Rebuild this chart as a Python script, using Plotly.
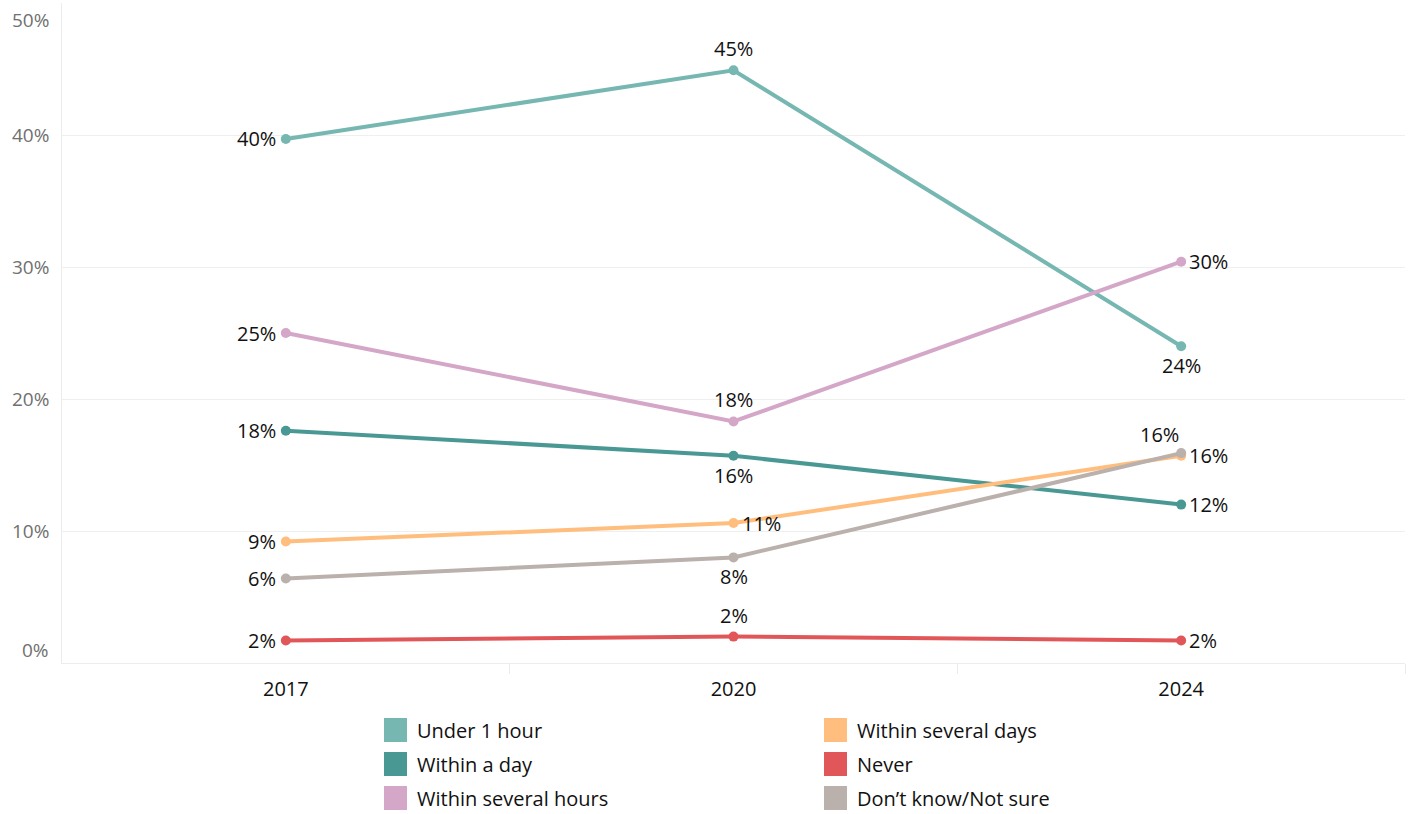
import plotly.graph_objects as go

years = ["2017", "2020", "2024"]
series_names = ["Under 1 hour", "Within a day", "Within several hours",
                "Within several days", "Never", "Don\u2019t know/Not sure"]
under_1_hour = [39.7, 44.9, 24.0]
within_a_day = [17.6, 15.7, 12.0]
within_several_hours = [25.0, 18.3, 30.4]
within_several_days = [9.2, 10.6, 15.7]
never = [1.7, 2.0, 1.7]
dont_know = [6.4, 8.0, 15.9]
y_tick_values = [0, 10, 20, 30, 40, 50]
y_tick_labels = ["0%", "10%", "20%", "30%", "40%", "50%"]

colors = ["#76B7B2", "#499894", "#D4A6C8", "#FFBE7D", "#E15759", "#BAB0AC"]
values = [under_1_hour, within_a_day, within_several_hours,
          within_several_days, never, dont_know]
label_positions = [
    ["left", "top", "bottom"],
    ["left", "bottom", "right"],
    ["left", "top", "right"],
    ["left", "right", "right"],
    ["left", "top", "right"],
    ["left", "bottom", "topleft"],
]
POS = {
    "left": dict(xanchor="right", yanchor="middle", xshift=-8, yshift=0),
    "right": dict(xanchor="left", yanchor="middle", xshift=6, yshift=0),
    "top": dict(xanchor="center", yanchor="bottom", xshift=0, yshift=6),
    "bottom": dict(xanchor="center", yanchor="top", xshift=0, yshift=-4),
    "topleft": dict(xanchor="right", yanchor="bottom", xshift=0, yshift=3),
}

FONT = "Open Sans"
fig = go.Figure()
xs = list(range(len(years)))
annotations = []
for name, vals, col, lp in zip(series_names, values, colors, label_positions):
    fig.add_trace(go.Scatter(
        x=xs, y=vals, mode="lines+markers", name=name,
        line=dict(color=col, width=4), marker=dict(color=col, size=10),
        showlegend=False, cliponaxis=False,
    ))
    for xi, v, p in zip(xs, vals, lp):
        annotations.append(dict(x=xi, y=v, xref="x", yref="y", text=f"{round(v):d}%",
                                showarrow=False,
                                font=dict(family=FONT, size=20, color="#111111"),
                                **POS[p]))

shapes = []
# y-axis labels (Tableau-style: top label below gridline, bottom above)
for v, lab in zip(y_tick_values, y_tick_labels):
    shift = 0
    if v == max(y_tick_values):
        shift = -17
    elif v == min(y_tick_values):
        shift = 13
    annotations.append(dict(x=0, xref="paper", y=v, yref="y", text=lab,
                            showarrow=False, xanchor="right", yanchor="middle",
                            xshift=-11, yshift=shift,
                            font=dict(family=FONT, size=19, color="#707070")))

# manual legend (two columns)
col_x = [384, 824]
row_y = [730, 764, 798]
W, H = 1411, 814
for i, (name, col) in enumerate(zip(series_names, colors)):
    cx = col_x[i // 3]
    cy = row_y[i % 3]
    shapes.append(dict(type="rect", xref="paper", yref="paper",
                       x0=(cx - 62) / (1405 - 62), x1=(cx + 23 - 62) / (1405 - 62),
                       y0=(663 - (cy - 12)) / 660, y1=(663 - (cy + 12)) / 660,
                       fillcolor=col, line=dict(width=0)))
    annotations.append(dict(xref="paper", yref="paper",
                            x=(cx + 31 - 62) / (1405 - 62), y=(663 - cy) / 660,
                            text=name, showarrow=False, xanchor="left", yanchor="middle",
                            font=dict(family=FONT, size=20, color="#111111")))

fig.update_layout(
    width=W, height=H,
    margin=dict(l=62, r=6, t=3, b=151),
    plot_bgcolor="white", paper_bgcolor="white",
    shapes=shapes, annotations=annotations,
    xaxis=dict(range=[-0.5, 2.5], tickvals=xs, ticktext=years,
               showgrid=False, zeroline=False, showline=True, linecolor="#ececec",
               ticks="", tickfont=dict(family=FONT, size=20, color="#111111"),
               ticklabelstandoff=8,
               minor=dict(tickvals=[0.5, 1.5, 2.5], ticks="outside", ticklen=10,
                          tickcolor="#ececec", showgrid=False)),
    yaxis=dict(range=[0, 50], tickvals=y_tick_values, showticklabels=False,
               showgrid=True, gridcolor="#efefef", gridwidth=1,
               zeroline=False, showline=True, linecolor="#ececec"),
)

fig.write_html("out.html", config={"displayModeBar": False},
               post_script="document.body.style.margin='0';document.body.style.overflow='hidden';")
